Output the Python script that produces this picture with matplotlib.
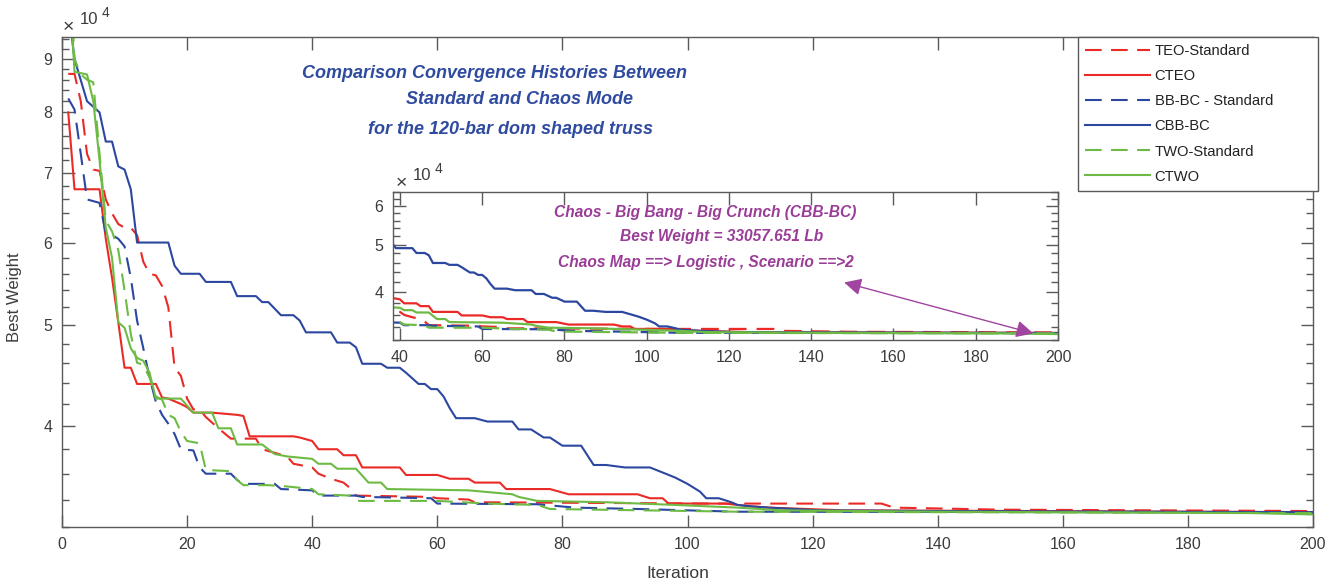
import numpy as np
import matplotlib
matplotlib.use('Agg')
import matplotlib.pyplot as plt
from matplotlib.ticker import FixedLocator, FuncFormatter, NullFormatter

# convergence histories, weight in units of 1e4 lb, vertices of each polyline
teo_std_it = [1, 2, 3, 4, 5, 6, 7, 8, 9, 10, 11, 12, 13, 14, 15, 16, 17, 18, 19, 20,
              21, 22, 23, 25, 27, 31, 32, 36, 37, 40, 41, 43, 45, 46, 47, 59, 60, 65, 66, 104,
              131, 133, 150, 200]
teo_std_w = [8.71, 8.71, 8.2, 7.3, 7.05, 7.03, 6.6, 6.4, 6.25, 6.2, 6.2, 6.1, 5.75, 5.6, 5.58, 5.45, 5.2, 4.55, 4.47, 4.25,
             4.15, 4.15, 4.08, 3.98, 3.89, 3.89, 3.8, 3.74, 3.68, 3.65, 3.6, 3.56, 3.53, 3.49, 3.43, 3.42, 3.41, 3.40, 3.38, 3.37,
             3.37, 3.34, 3.325, 3.315]

cteo_it = [1, 2, 6, 7, 8, 9, 10, 11, 12, 15, 16, 17, 19, 20, 21, 24, 28, 29, 30, 37,
           38, 40, 41, 44, 45, 47, 48, 54, 55, 60, 62, 65, 66, 70, 71, 78, 81, 92, 94, 96,
           97, 106, 110, 113, 125, 200]
cteo_w = [8.0, 6.75, 6.75, 6.05, 5.55, 5.03, 4.55, 4.55, 4.39, 4.39, 4.26, 4.25, 4.2, 4.17, 4.12, 4.12, 4.1, 4.09, 3.91, 3.91,
          3.9, 3.87, 3.8, 3.8, 3.75, 3.75, 3.65, 3.65, 3.59, 3.59, 3.56, 3.56, 3.53, 3.53, 3.48, 3.48, 3.44, 3.44, 3.41, 3.41,
          3.37, 3.37, 3.35, 3.34, 3.32, 3.307]

bbbc_std_it = [1, 2, 3, 4, 6, 7, 8, 9, 10, 11, 12, 13, 14, 15, 16, 17, 18, 19, 21, 22,
               23, 27, 28, 29, 34, 35, 40, 41, 47, 48, 59, 60, 76, 82, 92, 108, 200]
bbbc_std_w = [8.25, 8.05, 7.3, 6.6, 6.55, 6.13, 6.1, 6.05, 5.95, 5.55, 5.05, 4.75, 4.45, 4.22, 4.1, 4.02, 3.93, 3.8, 3.79, 3.65,
              3.6, 3.6, 3.55, 3.52, 3.52, 3.48, 3.47, 3.43, 3.43, 3.42, 3.41, 3.37, 3.365, 3.34, 3.33, 3.31, 3.305]

cbbbc_it = [1, 2, 4, 6, 7, 8, 9, 10, 11, 12, 17, 18, 19, 22, 23, 27, 28, 31, 32, 33,
            35, 37, 38, 39, 43, 44, 46, 47, 48, 51, 52, 54, 55, 57, 58, 59, 60, 61, 62, 63,
            66, 68, 72, 73, 75, 77, 78, 80, 83, 85, 87, 90, 94, 96, 98, 100, 102, 103, 105, 107,
            108, 110, 113, 121, 140, 200]
cbbbc_w = [10.1, 9.0, 8.2, 8.0, 7.5, 7.5, 7.1, 7.05, 6.75, 6.0, 6.0, 5.7, 5.6, 5.6, 5.5, 5.5, 5.33, 5.33, 5.26, 5.26,
           5.11, 5.11, 5.05, 4.92, 4.92, 4.81, 4.81, 4.76, 4.59, 4.59, 4.55, 4.55, 4.5, 4.39, 4.39, 4.34, 4.34, 4.27, 4.16, 4.07,
           4.07, 4.04, 4.04, 3.97, 3.97, 3.9, 3.9, 3.83, 3.83, 3.67, 3.67, 3.65, 3.65, 3.61, 3.57, 3.52, 3.46, 3.41, 3.41, 3.38,
           3.36, 3.35, 3.34, 3.32, 3.315, 3.306]

two_std_it = [1, 2, 3, 4, 5, 6, 7, 8, 9, 10, 11, 12, 13, 14, 15, 16, 17, 18, 19, 20,
              22, 23, 27, 28, 29, 33, 36, 40, 41, 46, 47, 60, 68, 76, 78, 108, 200]
two_std_w = [12.0, 9.0, 8.7, 8.6, 8.55, 7.3, 6.3, 6.15, 5.9, 5.4, 4.9, 4.6, 4.58, 4.45, 4.27, 4.24, 4.1, 4.07, 3.95, 3.87,
             3.85, 3.63, 3.62, 3.55, 3.51, 3.51, 3.5, 3.48, 3.44, 3.43, 3.39, 3.39, 3.37, 3.36, 3.33, 3.31, 3.30]

ctwo_it = [1, 2, 4, 5, 6, 7, 8, 9, 10, 11, 12, 13, 14, 15, 19, 21, 24, 25, 27, 28,
           32, 34, 36, 40, 41, 43, 44, 47, 49, 51, 52, 65, 72, 73, 76, 87, 98, 108, 115, 140,
           190, 200]
ctwo_w = [11.0, 8.75, 8.7, 8.2, 7.2, 6.2, 5.8, 5.03, 4.97, 4.75, 4.65, 4.62, 4.5, 4.25, 4.25, 4.12, 4.12, 3.98, 3.98, 3.84,
          3.84, 3.76, 3.74, 3.72, 3.68, 3.68, 3.64, 3.64, 3.53, 3.53, 3.48, 3.47, 3.44, 3.42, 3.39, 3.38, 3.36, 3.34, 3.32, 3.31,
          3.30, 3.29]

RED = '#ea2a26'
BLUE = '#2b47a0'
GREEN = '#6dbb44'
DASH = (0, (8, 4.5))
series = [
    ('TEO-Standard', teo_std_it, teo_std_w, RED, DASH),
    ('CTEO', cteo_it, cteo_w, RED, '-'),
    ('BB-BC - Standard', bbbc_std_it, bbbc_std_w, BLUE, DASH),
    ('CBB-BC', cbbbc_it, cbbbc_w, BLUE, '-'),
    ('TWO-Standard', two_std_it, two_std_w, GREEN, DASH),
    ('CTWO', ctwo_it, ctwo_w, GREEN, '-'),
]

plt.rcParams['font.family'] = ['Liberation Sans', 'DejaVu Sans']
AX_COL = '#5a5a5a'
TXT_COL = '#3c3c3c'
TITLE_COL = '#2f4b9f'
PURPLE = '#9a3d97'

W, H = 1337, 581


def fx(px):
    return px / W


def fy(py):
    return 1 - py / H


def style_axes(a, minor_vals):
    a.set_yscale('log')
    a.yaxis.set_major_locator(FixedLocator([4, 5, 6, 7, 8, 9]))
    a.yaxis.set_major_formatter(FuncFormatter(lambda v, p: f'{v:g}'))
    a.yaxis.set_minor_locator(FixedLocator(minor_vals))
    a.yaxis.set_minor_formatter(NullFormatter())
    a.tick_params(which='both', direction='in', top=True, right=True,
                  color=AX_COL, labelcolor=TXT_COL, labelsize=11.5, width=1)
    a.tick_params(which='major', length=9, pad=7)
    a.tick_params(which='minor', length=5)
    for sp in a.spines.values():
        sp.set_color(AX_COL)
        sp.set_linewidth(1)


fig = plt.figure(figsize=(W / 100, H / 100), dpi=100)
ax = fig.add_axes([fx(62), fy(527), fx(1313) - fx(62), fy(37) - fy(527)])
style_axes(ax, np.arange(3.2, 9.45, 0.2))
ax.set_xlim(0, 200)
ax.set_ylim(3.2, 9.45)
ax.set_xticks(range(0, 201, 20))

handles = []
for label, it, w, col, ls in series:
    h, = ax.plot(it, w, color=col, linestyle=ls, linewidth=1.5, label=label)
    handles.append(h)

ax.set_ylabel('Best Weight', fontsize=12, color=TXT_COL)
ax.set_xlabel('Iteration', fontsize=12.5, color=TXT_COL)
ax.yaxis.set_label_coords(-0.032, 0.469)
ax.xaxis.set_label_coords(0.4924, -0.079)

# x10^4 exponent label
fig.text(fx(63), fy(28), '\u00d7', fontsize=14, color=TXT_COL, va='center')
fig.text(fx(80), fy(19), '10', fontsize=12, color=TXT_COL, va='center')
fig.text(fx(102), fy(13), '4', fontsize=10, color=TXT_COL, va='center')

# title lines
title_lines = [
    ('Comparison Convergence Histories Between', 494, 73),
    ('Standard and Chaos Mode', 520, 100),
    ('for the 120-bar dom shaped truss', 511, 130),
]
for txt, x, y in title_lines:
    fig.text(fx(x), fy(y), txt, fontsize=13, fontweight='bold', fontstyle='italic',
             color=TITLE_COL, ha='center', va='center')

# legend
leg = fig.legend(handles, [s[0] for s in series], loc='upper left',
                 bbox_to_anchor=(fx(1078), 0, fx(1318) - fx(1078), fy(37)), mode='expand',
                 fontsize=10.6, frameon=True, fancybox=False, edgecolor=AX_COL, framealpha=1,
                 handlelength=4.4, handletextpad=0.3, labelspacing=0.75, borderpad=0.5,
                 borderaxespad=0)
leg.get_frame().set_linewidth(1)
for t in leg.get_texts():
    t.set_color('#222222')

# inset
axi = fig.add_axes([fx(393), fy(340), fx(1058) - fx(393), fy(192) - fy(340)])
axi.set_facecolor('white')
style_axes(axi, np.arange(3.2, 6.41, 0.2))
axi.set_xlim(38.3, 200)
axi.set_ylim(3.2, 6.4)
axi.set_xticks(range(40, 201, 20))
for label, it, w, col, ls in series:
    axi.plot(it, w, color=col, linestyle=ls, linewidth=1.6)

fig.text(fx(396), fy(184), '\u00d7', fontsize=14, color=TXT_COL, va='center')
fig.text(fx(413), fy(175), '10', fontsize=12, color=TXT_COL, va='center')
fig.text(fx(435), fy(169), '4', fontsize=10, color=TXT_COL, va='center')

note_lines = [
    ('Chaos - Big Bang - Big Crunch (CBB-BC)', 705, 212),
    ('Best Weight = 33057.651 Lb', 722, 237),
    ('Chaos Map ==> Logistic , Scenario ==>2', 706, 262),
]
for txt, x, y in note_lines:
    fig.text(fx(x), fy(y), txt, fontsize=11.2, fontweight='bold', fontstyle='italic',
             color=PURPLE, ha='center', va='center')

axi.annotate('', xy=(194, 3.30), xytext=(148, 4.19),
             arrowprops=dict(arrowstyle='<|-|>', color='#a045a0', lw=1,
                             mutation_scale=26, shrinkA=0, shrinkB=0))

fig.savefig('out.png', dpi=100, facecolor='white')
